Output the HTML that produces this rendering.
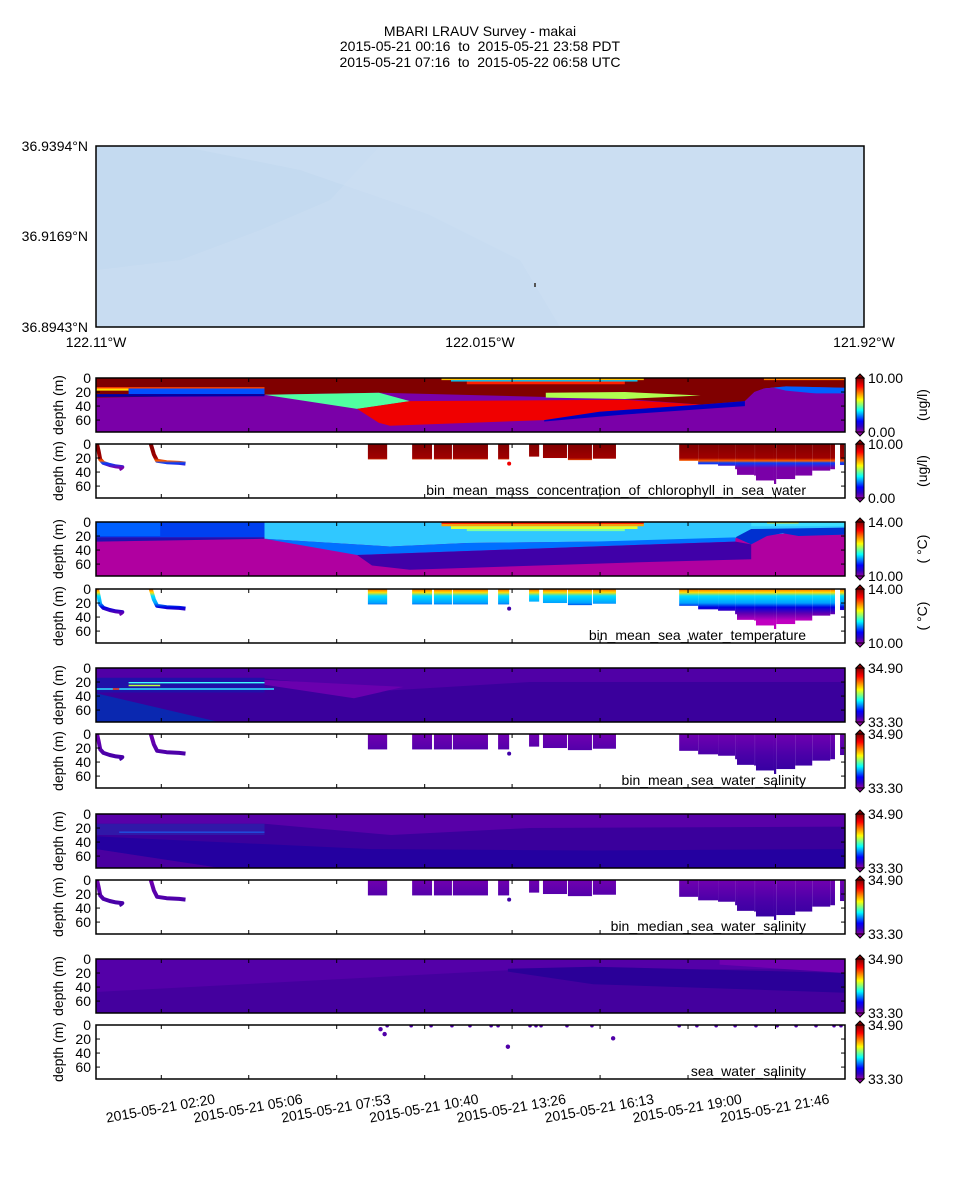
<!DOCTYPE html>
<html><head><meta charset="utf-8"><style>
html,body{margin:0;padding:0;background:#fff;}
svg{display:block;font-family:"Liberation Sans",sans-serif;}
</style></head><body>
<svg id="fig" width="960" height="1200" viewBox="0 0 960 1200" xmlns="http://www.w3.org/2000/svg">
<defs>
<linearGradient id="jet" x1="0" y1="1" x2="0" y2="0">
<stop offset="0" stop-color="#9000a0"/><stop offset="0.1" stop-color="#3000c0"/><stop offset="0.2" stop-color="#0000ff"/><stop offset="0.4" stop-color="#00ffff"/><stop offset="0.6" stop-color="#ffff00"/><stop offset="0.85" stop-color="#ff0000"/><stop offset="1" stop-color="#800000"/>
</linearGradient>
</defs>
<g font-size="14" text-anchor="middle">
<text x="480" y="36">MBARI LRAUV Survey - makai</text>
<text x="480" y="51">2015-05-21 00:16 &#160;to &#160;2015-05-21 23:58 PDT</text>
<text x="480" y="67">2015-05-21 07:16 &#160;to &#160;2015-05-22 06:58 UTC</text>
</g>
<g>
<rect x="96" y="146" width="768" height="181" fill="#c8dcf1"/>
<polygon points="96,146 380,146 330,200 260,230 180,260 96,270" fill="#c2d8ef" opacity="0.7"/>
<polygon points="180,146 864,146 864,327 560,327 520,260 430,215 300,170" fill="#cde0f3" opacity="0.6"/>
<rect x="534" y="283" width="2" height="4" fill="#555"/>
<rect x="96" y="146" width="768" height="181" fill="none" stroke="#000" stroke-width="1.5"/>
</g>
<g font-size="14">
<text x="88" y="151" text-anchor="end">36.9394°N</text>
<text x="88" y="241" text-anchor="end">36.9169°N</text>
<text x="88" y="332" text-anchor="end">36.8943°N</text>
<text x="96" y="347" text-anchor="middle">122.11°W</text>
<text x="480" y="347" text-anchor="middle">122.015°W</text>
<text x="864" y="347" text-anchor="middle">121.92°W</text>
</g>
<g id="plots"></g>
</svg>
<script>
const T0 = 0.267, T1 = 23.967;
const tickLabels = ['2015-05-21 02:20','2015-05-21 05:06','2015-05-21 07:53','2015-05-21 10:40','2015-05-21 13:26','2015-05-21 16:13','2015-05-21 19:00','2015-05-21 21:46'];
const tickHours = [2.333, 5.1, 7.883, 10.667, 13.433, 16.217, 19.0, 21.767];
const depthTicks = [0, 20, 40, 60];
const D_MAX = 77;

// profile blocks: [startHour, endHour, maxDepth]
const blocks = [[8.87,9.48,22],[10.27,10.9,22],[10.96,11.53,22],[11.56,12.67,22],[12.99,13.34,22],[13.97,14.29,18],[14.41,15.17,20],[15.2,15.96,23],[15.99,16.72,21],[18.72,19.32,24],[19.32,19.95,29],[19.95,20.49,31],[20.49,20.55,36],[20.55,21.09,44],[21.09,21.15,45],[21.15,21.72,52],[21.72,21.79,57],[21.79,22.39,50],[22.39,22.93,45],[22.93,23.5,38],[23.5,23.65,36],[23.81,23.94,30]];
const saw1 = [[0.3,0],[0.35,10],[0.4,22],[0.5,27],[0.7,30],[0.9,32],[1.1,33],[1.05,35],[1.0,36]];
const saw2 = [[2.0,0],[2.1,15],[2.2,24],[2.5,26],[2.9,27],[3.1,28]];
const strayDots = [[13.34,28]];
const swsTopDots = [9.48,10.24,10.87,11.53,12.1,12.77,12.99,14.0,14.19,14.35,15.17,15.96,18.72,19.28,19.89,20.49,21.15,21.82,22.42,23.05,23.62,23.84];
const swsDots = [[9.27,6],[9.4,13],[13.3,31],[16.63,19]];

const chlRegions = [
 ['#7a00a8',[[T0,0],[T1,0],[T1,77],[T0,77]]],
 ['#800000',[[T0,0],[T1,0],[T1,14],[22.1,12],[21.4,15],[21.1,20],[20.8,33],[19.4,38],[17,30],[9.22,21],[5.6,24],[T0,28]]],
 ['#ff4000',[[T0,13],[5.6,13],[5.6,15],[T0,15]]],
 ['#ffe000',[[T0,15],[1.3,15],[1.3,18],[T0,18]]],
 ['#0050ff',[[1.3,15],[5.6,15],[5.6,23],[1.3,23]]],
 ['#0000a8',[[T0,23],[5.6,23],[5.6,26],[T0,27]]],
 ['#ffc000',[[11.2,0],[17.6,0],[17.6,3],[11.2,3]]],
 ['#00d0ff',[[11.5,3],[17.4,3],[17.4,5],[11.5,5]]],
 ['#ff2000',[[12,5],[17,5],[17,9],[12,9]]],
 ['#ff8000',[[21.4,0],[T1,0],[T1,3],[21.4,3]]],
 ['#0060ff',[[21.4,15],[22.1,12],[T1,14],[T1,22],[21.4,22]]],
 ['#7a00a8',[[20.8,33],[21.1,20],[21.4,15],[21.7,14],[22.1,18],[T1,26],[T1,77],[20.8,77]]],
 ['#50ffa0',[[5.6,24],[9.22,21],[10.2,33],[8.53,44]]],
 ['#b0ff50',[[14.5,21],[17,20],[19.4,25],[17,30],[14.5,28]]],
 ['#f00000',[[8.53,44],[10.2,33],[16.95,31],[19.4,38],[16.2,48],[14.45,60],[9.57,68],[9.22,64]]],
 ['#0000c0',[[14.45,60],[16.2,48],[19.4,38],[20.8,33],[20.8,40],[17,52],[14.45,62]]]
];
const tempRegions = [
 ['#b000a0',[[T0,0],[T1,0],[T1,77],[T0,77]]],
 ['#0040f0',[[T0,0],[5.6,0],[5.6,22],[T0,22]]],
 ['#0060ff',[[T0,0],[2.3,0],[2.3,20],[T0,20]]],
 ['#2010b0',[[T0,22],[5.6,22],[5.6,24],[T0,28]]],
 ['#30c8ff',[[5.6,0],[T1,0],[T1,10],[21,20],[20,26],[16,28],[12,30],[9.57,35],[5.6,24]]],
 ['#0070ff',[[5.6,24],[9.57,35],[12,30],[16,28],[20.5,22],[20.5,28],[16,35],[8.53,47]]],
 ['#4000a8',[[8.53,47],[16,35],[20.5,28],[21,32],[21,53],[17,58],[10.2,68],[9.0,62]]],
 ['#ff2000',[[11.2,0],[17.6,0],[17.6,3],[11.2,3]]],
 ['#ffa000',[[11.2,3],[17.6,3],[17.6,6],[11.2,6]]],
 ['#e0ff30',[[11.5,6],[17.4,6],[17.4,10],[11.5,10]]],
 ['#80ffa0',[[12,10],[17,10],[17,13],[12,13]]],
 ['#0030d0',[[20.5,22],[21,10],[T1,8],[T1,18],[22.5,20],[22,16],[21.5,20],[21,32]]],
 ['#40e0ff',[[21,0],[T1,0],[T1,6],[21,6]]],
 ['#ffe000',[[21.5,0],[22.5,0],[22.5,2],[21.5,2]]]
];
const salMeanRegions = [
 ['#3a009c',[[T0,0],[T1,0],[T1,77],[T0,77]]],
 ['#5000a6',[[T0,0],[T1,0],[T1,20],[14,20],[9.6,32],[5.6,15],[T0,15]]],
 ['#6a00ae',[[5.6,17],[10.0,27],[8.43,43],[5.6,24]]],
 ['#2010a8',[[T0,14],[5.6,14],[5.6,35],[T0,35]]],
 ['#0a28b0',[[T0,36],[T0,77],[4.16,77]]],
 ['#40ffff',[[1.3,20],[5.6,20],[5.6,22],[1.3,22]]],
 ['#c0ff40',[[1.3,24],[2.3,24],[2.3,26],[1.3,26]]],
 ['#30e0ff',[[T0,29],[5.9,29],[5.9,31],[T0,31]]],
 ['#ff2000',[[0.8,29],[1.0,29],[1.0,31],[0.8,31]]]
];
const salMedRegions = [
 ['#3a009c',[[T0,0],[T1,0],[T1,77],[T0,77]]],
 ['#5800a8',[[T0,0],[T1,0],[T1,18],[14,20],[9.6,30],[5.6,14],[T0,14]]],
 ['#3018a8',[[T0,14],[5.6,14],[5.6,30],[T0,30]]],
 ['#2400a0',[[T0,32],[9,50],[16,52],[T1,50],[T1,77],[4.2,77],[T0,50]]],
 ['#4a00a0',[[T0,50],[T0,77],[4.2,77]]],
 ['#2050e0',[[1,25],[5.6,25],[5.6,27],[1,27]]]
];
const salRegions = [
 ['#44009e',[[T0,0],[T1,0],[T1,77],[T0,77]]],
 ['#5400a8',[[T0,0],[T1,0],[T1,14],[13.3,16],[T0,47]]],
 ['#2a0098',[[13.3,14],[16,11],[T1,20],[T1,48],[16,36],[13.3,18]]],
 ['#7000b0',[[20,0],[T1,0],[T1,20],[20,8]]]
];

const tops = [378,444,522,589,668,734,814,880,959,1025];
const H = 54, X0 = 96, X1 = 845;
const NS = 'http://www.w3.org/2000/svg';
function xs(h){ return X0 + (h - T0) / (T1 - T0) * (X1 - X0); }
function ys(top, d){ return top + d / D_MAX * H; }
const root = document.getElementById('plots');
function mk(tag, attrs, parent){ const e = document.createElementNS(NS, tag); for (const k in attrs) e.setAttribute(k, attrs[k]); (parent||root).appendChild(e); return e; }

const gradStops = {
 chl: [[0,'#800000'],[20,'#a00000'],[24,'#ff6000'],[27,'#0040ff'],[34,'#7a00a8'],[77,'#7a00a8']],
 temp: [[0,'#ff6000'],[5,'#ffe000'],[10,'#00e0ff'],[20,'#00a0ff'],[26,'#0000e0'],[35,'#6000b0'],[45,'#c000c0'],[77,'#c000c0']],
 sal: [[0,'#7000b0'],[30,'#4a00a8'],[60,'#3000a0'],[77,'#3000a0']]
};
const defs = document.querySelector('defs');
function makeGrad(id, top, stops){
  const g = mk('linearGradient', {id:id, gradientUnits:'userSpaceOnUse', x1:0, x2:0, y1:top, y2:top+H}, defs);
  stops.forEach(s => mk('stop', {offset: s[0]/D_MAX, 'stop-color': s[1]}, g));
}

const panelDefs = [
 {regions: chlRegions},
 {scatter: 'chl', label: 'bin_mean_mass_concentration_of_chlorophyll_in_sea_water'},
 {regions: tempRegions},
 {scatter: 'temp', label: 'bin_mean_sea_water_temperature'},
 {regions: salMeanRegions},
 {scatter: 'sal', label: 'bin_mean_sea_water_salinity'},
 {regions: salMedRegions},
 {scatter: 'sal', label: 'bin_median_sea_water_salinity'},
 {regions: salRegions},
 {dots: true, label: 'sea_water_salinity'}
];
const cbarTop = ['10.00','10.00','14.00','14.00','34.90','34.90','34.90','34.90','34.90','34.90'];
const cbarBot = ['0.00','0.00','10.00','10.00','33.30','33.30','33.30','33.30','33.30','33.30'];
const cbarUnit = ['(ug/l)','(ug/l)','( °C)','( °C)','','','','','',''];

panelDefs.forEach((p, i) => {
  const top = tops[i];
  const g = mk('g', {});
  
  
  const cp = mk('clipPath', {id:'clip'+i}, defs);
  mk('rect', {x: X0, y: top, width: X1-X0, height: H}, cp);
  const body = mk('g', {'clip-path':'url(#clip'+i+')'}, g);
  if (p.regions) {
    p.regions.forEach((r, k) => {
      const poly = mk('polygon', {points: r[1].map(q => xs(q[0]).toFixed(1)+','+ys(top,q[1]).toFixed(1)).join(' '), fill: r[0]}, body);
      
      
    });
  }
  if (p.scatter) {
    const gid = 'grad'+i;
    makeGrad(gid, top, gradStops[p.scatter]);
    blocks.forEach(b => {
      const r = mk('rect', {x: xs(b[0]), y: top, width: Math.max(1, xs(b[1])-xs(b[0])), height: ys(top,b[2])-top, fill: 'url(#'+gid+')'}, body);
      
      
    });
    [saw1, saw2].forEach(s => {
      const pl = mk('polyline', {points: s.map(q => xs(q[0]).toFixed(1)+','+ys(top,q[1]).toFixed(1)).join(' '), fill:'none', stroke:'url(#'+gid+')', 'stroke-width':4, 'stroke-linejoin':'round'}, body);
      
      
    });
    strayDots.forEach(q => {
      const c = mk('circle', {cx: xs(q[0]), cy: ys(top,q[1]), r: 2, fill: p.scatter==='chl' ? '#f00000' : '#4000a8'}, body);
      
      
    });
  }
  if (p.dots) {
    swsTopDots.forEach(h => {
      const c = mk('circle', {cx: xs(h), cy: ys(top,1), r: 1.8, fill: '#5000a8'}, body);
      
      
    });
    swsDots.forEach(q => {
      const c = mk('circle', {cx: xs(q[0]), cy: ys(top,q[1]), r: 2.2, fill: '#5000a8'}, body);
      
      
    });
  }
  mk('rect', {x: X0, y: top, width: X1-X0, height: H, fill:'none', stroke:'#000', 'stroke-width':1.5}, g);
  tickHours.forEach(h => {
    mk('line', {x1: xs(h), x2: xs(h), y1: top+H, y2: top+H-4, stroke:'#000'}, g);
    mk('line', {x1: xs(h), x2: xs(h), y1: top, y2: top+4, stroke:'#000'}, g);
  });
  depthTicks.forEach(d => {
    const y = ys(top, d);
    mk('line', {x1: X0, x2: X0+4, y1: y, y2: y, stroke:'#000'}, g);
    mk('line', {x1: X1, x2: X1-4, y1: y, y2: y, stroke:'#000'}, g);
    const t = mk('text', {x: 91, y: y+5, 'font-size':14, 'text-anchor':'end'}, g);
    t.textContent = d;
    
    
  });
  const yl = mk('text', {x: 0, y: 0, 'font-size':14, 'text-anchor':'middle', transform:'translate(63,'+(top+H/2)+') rotate(-90)'}, g);
  yl.textContent = 'depth (m)';
  
  
  if (p.label) {
    const lt = mk('text', {x: 806, y: top+H-3, 'font-size':14, 'text-anchor':'end'}, g);
    lt.textContent = p.label;
    
    
  }
  const cb = mk('g', {}, g);
  
  
  mk('polygon', {points: '856,'+top+' 860,'+(top-4)+' 864,'+top, fill:'#800000', stroke:'#000', 'stroke-width':1}, cb);
  mk('polygon', {points: '856,'+(top+H)+' 860,'+(top+H+4)+' 864,'+(top+H), fill:'#9000a0', stroke:'#000', 'stroke-width':1}, cb);
  mk('rect', {x:856, y:top, width:8, height:H, fill:'url(#jet)', stroke:'#000', 'stroke-width':1}, cb);
  const t1 = mk('text', {x:868, y:top+5, 'font-size':14}, cb); t1.textContent = cbarTop[i];
  const t2 = mk('text', {x:868, y:top+H+5, 'font-size':14}, cb); t2.textContent = cbarBot[i];
  if (cbarUnit[i]) {
    const u = mk('text', {x:0, y:0, 'font-size':14, 'text-anchor':'middle', transform:'translate(927,'+(top+H/2)+') rotate(-90)'}, cb);
    u.textContent = cbarUnit[i];
  }
});
tickHours.forEach((h, k) => {
  const t = mk('text', {x:0, y:0, 'font-size':14, 'text-anchor':'middle', transform:'translate('+xs(h)+',1113) rotate(-10)'});
  t.textContent = tickLabels[k];
  
  
});
</script>
</body></html>
